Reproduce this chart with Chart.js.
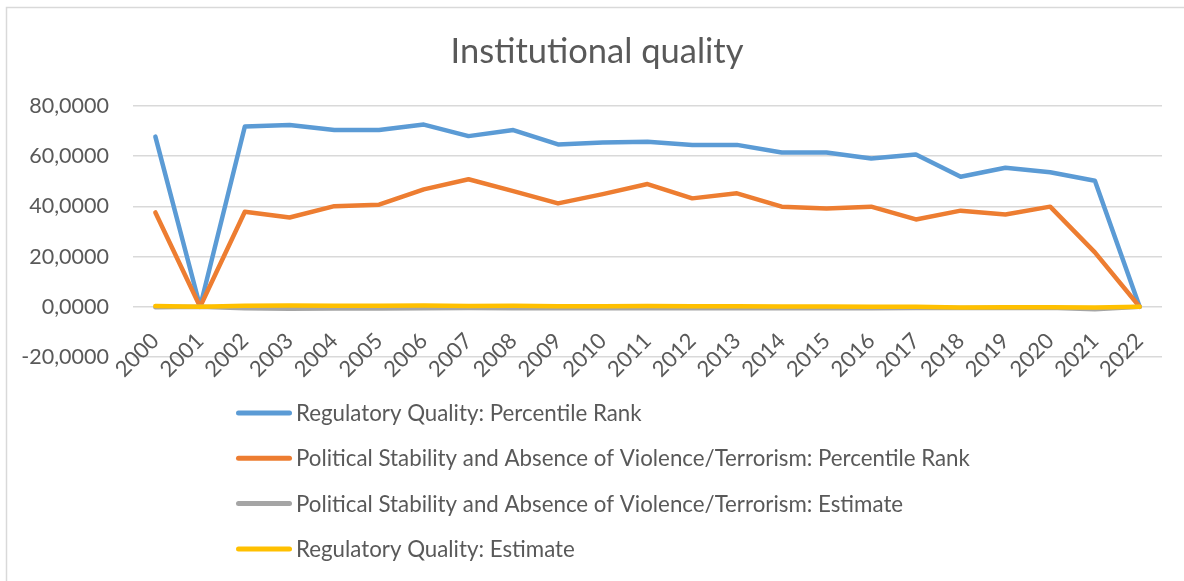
<!DOCTYPE html>
<html><head><meta charset="utf-8">
<script src="https://cdn.jsdelivr.net/npm/chart.js@4.4.1/dist/chart.umd.min.js"></script>
<style>html,body{margin:0;padding:0;background:#fff;overflow:hidden}#wrap{position:relative;width:1184px;height:581px}</style>
</head><body><div id="wrap"><canvas id="c" width="1184" height="581"></canvas></div>
<script>
const years = ['2000','2001','2002','2003','2004','2005','2006','2007','2008','2009','2010','2011','2012','2013','2014','2015','2016','2017','2018','2019','2020','2021','2022'];
const regQualityRank = [67.8, 0, 71.8, 72.4, 70.4, 70.4, 72.6, 68.0, 70.4, 64.7, 65.5, 65.8, 64.5, 64.5, 61.5, 61.5, 59.1, 60.7, 51.8, 55.4, 53.6, 50.2, 0];
const polStabRank = [37.6, 0, 37.9, 35.6, 40.1, 40.7, 46.8, 50.8, 46.1, 41.2, 44.9, 48.9, 43.2, 45.2, 39.9, 39.2, 39.9, 34.8, 38.3, 36.8, 39.9, 21.7, 0];
const polStabEstimate = [-0.2, 0, -0.6, -0.75, -0.7, -0.7, -0.6, -0.5, -0.55, -0.6, -0.6, -0.55, -0.6, -0.55, -0.6, -0.6, -0.55, -0.5, -0.5, -0.45, -0.4, -1.0, 0];
const regQualityEstimate = [0.3, 0, 0.43, 0.55, 0.45, 0.42, 0.5, 0.35, 0.4, 0.25, 0.25, 0.28, 0.22, 0.22, 0.1, 0.08, 0.02, 0.05, -0.25, -0.18, -0.2, -0.3, 0];
const seriesNames = [
  'Regulatory Quality: Percentile Rank',
  'Political Stability and Absence of Violence/Terrorism: Percentile Rank',
  'Political Stability and Absence of Violence/Terrorism: Estimate',
  'Regulatory Quality: Estimate'
];
const yMin = -20, yMax = 80, yStep = 20;
const titleText = 'Institutional quality';

const FONT = 'Lato, "Noto Sans", sans-serif';
const TXT = '#595959';
const colors = ['#5B9BD5', '#ED7D31', '#A5A5A5', '#FFC000'];
const seriesData = [regQualityRank, polStabRank, polStabEstimate, regQualityEstimate];
const PAD_LEFT = 10;

const frame = {
  id: 'frame',
  beforeDraw(chart) {
    const ctx = chart.ctx;
    ctx.save();
    ctx.strokeStyle = '#D9D9D9';
    ctx.lineWidth = 1.5;
    ctx.beginPath();
    ctx.moveTo(6.5, 581);
    ctx.lineTo(6.5, 7.5);
    ctx.lineTo(1184, 7.5);
    ctx.stroke();
    ctx.restore();
  }
};

const vLegend = {
  id: 'vLegend',
  afterDraw(chart) {
    const ctx = chart.ctx;
    const top = 413, step = 45.3, x0 = 236, x1 = 292, tx = 296;
    ctx.save();
    ctx.font = '22.3px ' + FONT;
    ctx.textBaseline = 'middle';
    ctx.textAlign = 'left';
    chart.data.datasets.forEach((ds, i) => {
      const y = top + i * step;
      ctx.strokeStyle = ds.borderColor;
      ctx.lineWidth = 5;
      ctx.lineCap = 'round';
      ctx.beginPath();
      ctx.moveTo(x0 + 2.5, y);
      ctx.lineTo(x1 - 2.5, y);
      ctx.stroke();
      ctx.fillStyle = TXT;
      ctx.fillText(ds.label, tx, y + 1);
    });
    ctx.restore();
  }
};

new Chart(document.getElementById('c'), {
  type: 'line',
  data: {
    labels: years,
    datasets: seriesNames.map((name, i) => ({
      label: name,
      data: seriesData[i],
      borderColor: colors[i],
      backgroundColor: colors[i],
      borderWidth: 4.5,
      pointRadius: 0,
      pointHoverRadius: 0,
      tension: 0,
      fill: false,
      borderJoinStyle: 'round',
      borderCapStyle: 'round',
      order: 4 - i
    }))
  },
  options: {
    responsive: false,
    animation: false,
    devicePixelRatio: 1,
    layout: { padding: { left: PAD_LEFT, right: 0, top: 0, bottom: 224 } },
    plugins: {
      legend: { display: false },
      tooltip: { enabled: false },
      title: {
        display: true,
        text: titleText,
        color: TXT,
        font: { family: FONT, size: 34.5, weight: 'normal' },
        padding: { top: 31, bottom: 33.6 }
      }
    },
    scales: {
      x: {
        position: { y: 0 },
        offset: true,
        grid: { display: false, drawTicks: false },
        border: { display: false },
        ticks: {
          autoSkip: false,
          maxRotation: 45,
          minRotation: 45,
          color: TXT,
          padding: 21,
          font: { family: FONT, size: 22 }
        }
      },
      y: {
        min: yMin,
        max: yMax,
        afterFit(scale) { scale.width = 133 - PAD_LEFT; },
        grid: { color: '#D9D9D9', lineWidth: 1.5, drawTicks: false },
        border: { display: false },
        ticks: {
          stepSize: yStep,
          color: TXT,
          padding: 24,
          font: { family: FONT, size: 21.5 },
          callback: v => v.toFixed(4).replace('.', ',')
        }
      },
      yRightSpace: {
        position: 'right',
        display: true,
        afterFit(scale) { scale.width = 22; },
        grid: { display: false, drawTicks: false },
        border: { display: false },
        ticks: { display: false }
      }
    }
  },
  plugins: [frame, vLegend]
});
</script></body></html>
